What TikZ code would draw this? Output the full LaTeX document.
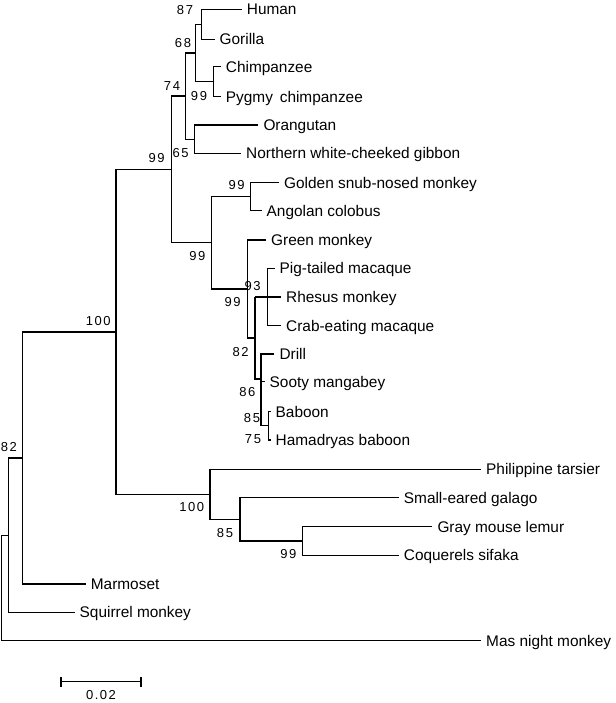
\documentclass[tikz,border=0pt]{standalone}
\usepackage{fontspec}
\setmainfont{Liberation Sans}
\newfontfamily\bsfont[LetterSpace=12]{Liberation Sans}
\newcommand\treekids[3]{\draw[br] (#2) -| (#1) |- (#3);}
\begin{document}
\begin{tikzpicture}[x=1pt,y=-1pt,
  br/.style={line width=1.3pt, black},
  leaf/.style={anchor=west, inner xsep=5pt, inner ysep=0pt, font=\fontsize{15.4}{18}\selectfont, text height=11pt, text depth=0pt},
  bs/.style={inner sep=0pt, font=\bsfont\fontsize{13}{15}\selectfont}]
\useasboundingbox (0,0) rectangle (615,703);
% leaves
\node[leaf] (human) at (241.7,9.3) {Human};
\node[leaf] (gorilla) at (214.5,39.3) {Gorilla};
\node[leaf] (chimp) at (220.7,66.7) {Chimpanzee};
\node[leaf] (pygmy) at (220.7,96.7) {Pygmy\, chimpanzee};
\node[leaf] (orang) at (258.3,125) {Orangutan};
\node[leaf] (gibbon) at (241,153.3) {Northern white-cheeked gibbon};
\node[leaf] (golden) at (279,182.7) {Golden snub-nosed monkey};
\node[leaf] (angolan) at (261.5,210.7) {Angolan colobus};
\node[leaf] (green) at (266,240) {Green monkey};
\node[leaf] (pig) at (274.5,268.3) {Pig-tailed macaque};
\node[leaf] (rhesus) at (281,297) {Rhesus monkey};
\node[leaf] (crab) at (281,325.7) {Crab-eating macaque};
\node[leaf] (drill) at (274.3,354) {Drill};
\node[leaf] (sooty) at (264.5,381.7) {Sooty mangabey};
\node[leaf] (baboon) at (270.5,411.7) {Baboon};
\node[leaf] (hamadryas) at (270.5,440) {Hamadryas baboon};
\node[leaf] (tarsier) at (481,469.3) {Philippine tarsier};
\node[leaf] (galago) at (398.7,497.7) {Small-eared galago};
\node[leaf] (gray) at (432.3,526.7) {Gray mouse lemur};
\node[leaf] (coq) at (398.7,555.3) {Coquerels sifaka};
\node[leaf] (marmoset) at (85.7,584) {Marmoset};
\node[leaf] (squirrel) at (74.5,612.3) {Squirrel monkey};
\node[leaf] (mas) at (481,640.7) {Mas night monkey};
% internal nodes
\coordinate (hg) at (201.7,24.3);
\coordinate (ch) at (213.3,81.7);
\coordinate (afa) at (195.7,53);
\coordinate (og) at (194.3,139.2);
\coordinate (hom) at (185.7,96.1);
\coordinate (cat) at (171.7,169.5);
\coordinate (col) at (250.7,196.7);
\coordinate (pc) at (267.3,297);
\coordinate (mac) at (255,297);
\coordinate (w) at (268.3,425.8);
\coordinate (z) at (261,403.8);
\coordinate (pap) at (261,378.9);
\coordinate (n82) at (255,338);
\coordinate (cin) at (247.3,289);
\coordinate (cid) at (211.7,242.8);
\coordinate (sp2) at (302.7,541);
\coordinate (str) at (240,519.3);
\coordinate (pro) at (210,494.3);
\coordinate (n100) at (116,331.9);
\coordinate (n82b) at (22.7,458);
\coordinate (n0) at (8.3,535.2);
\coordinate (root) at (1.7,588);
% branches
\treekids{hg}{human.west}{gorilla.west}
\treekids{ch}{chimp.west}{pygmy.west}
\treekids{afa}{hg}{ch}
\treekids{og}{orang.west}{gibbon.west}
\treekids{hom}{afa}{og}
\treekids{col}{golden.west}{angolan.west}
\treekids{pc}{pig.west}{crab.west}
\treekids{mac}{rhesus.west}{pc}
\treekids{w}{baboon.west}{hamadryas.west}
\treekids{z}{sooty.west}{w}
\treekids{pap}{drill.west}{z}
\treekids{n82}{mac}{pap}
\treekids{cin}{green.west}{n82}
\treekids{cid}{col}{cin}
\treekids{cat}{hom}{cid}
\treekids{sp2}{gray.west}{coq.west}
\treekids{str}{galago.west}{sp2}
\treekids{pro}{tarsier.west}{str}
\treekids{n100}{cat}{pro}
\treekids{n82b}{n100}{marmoset.west}
\treekids{n0}{n82b}{squirrel.west}
\treekids{root}{n0}{mas.west}
% bootstrap values
\node[bs] (b87) at (185,10) {87};
\node[bs] (b68) at (183,43) {68};
\node[bs] (b99a) at (199,96) {99};
\node[bs] (b74) at (172,86) {74};
\node[bs] (b65) at (180.7,153) {65};
\node[bs] (b99b) at (156.7,158.3) {99};
\node[bs] (b99c) at (236.7,185) {99};
\node[bs] (b99d) at (197.3,256) {99};
\node[bs] (b93) at (252.7,286) {93};
\node[bs] (b99e) at (232.7,301.7) {99};
\node[bs] (b82) at (240.7,351.7) {82};
\node[bs] (b86) at (247.3,392) {86};
\node[bs] (b85) at (252,418) {85};
\node[bs] (b75) at (253,439) {75};
\node[bs] (b100a) at (98.3,320.7) {100};
\node[bs] (b82b) at (8.8,447) {82};
\node[bs] (b100b) at (191.7,507.3) {100};
\node[bs] (b85b) at (225,532.7) {85};
\node[bs] (b99f) at (288.3,554) {99};
% scale bar
\coordinate (sbl) at (61,681.7);
\coordinate (sbr) at (141,681.7);
\draw[br] (sbl) -- (sbr);
\draw[br] ([yshift=-5pt]sbl) -- ([yshift=5pt]sbl);
\draw[br] ([yshift=-5pt]sbr) -- ([yshift=5pt]sbr);
\node[bs] (sbt) at (101,695) {0.02};
\end{tikzpicture}
\end{document}
